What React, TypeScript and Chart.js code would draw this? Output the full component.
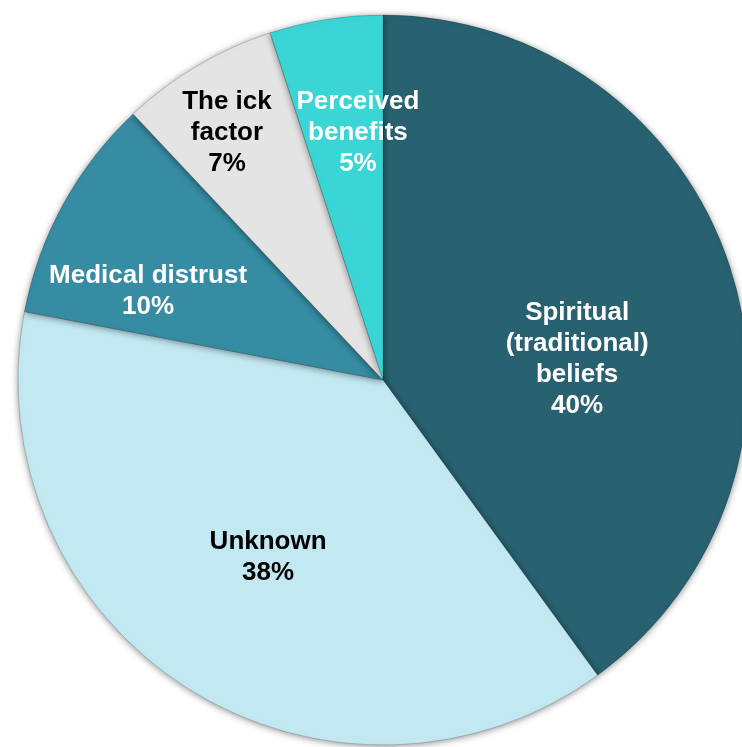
import React, { useEffect, useRef } from "react";
import { Chart, registerables } from "chart.js";

Chart.register(...registerables);

const categories = [
  ["Spiritual", "(traditional)", "beliefs"],
  ["Unknown"],
  ["Medical distrust"],
  ["The ick", "factor"],
  ["Perceived", "benefits"],
];
const values = [40, 38, 10, 7, 5];
const colors = ["#286170", "#C2E8F2", "#368CA3", "#E4E4E4", "#3AD6D6"];
const textColors = ["#FFFFFF", "#000000", "#FFFFFF", "#000000", "#FFFFFF"];
// label anchor: [angle clockwise from top in degrees, fraction of radius]
const labelAnchors: [number, number][] = [
  [83.8, 0.535],
  [213, 0.578],
  [290.7, 0.688],
  [327.7, 0.8],
  [354.2, 0.68],
];

const FONT = 'bold 26px "Liberation Sans", Arial, sans-serif';
const LINE_H = 31;

const shadowAndLabels = {
  id: "shadowAndLabels",
  beforeDatasetsDraw(chart: any) {
    const ctx = chart.ctx;
    ctx.save();
    ctx.shadowColor = "rgba(0,0,0,0.45)";
    ctx.shadowBlur = 7;
    ctx.shadowOffsetX = 0;
    ctx.shadowOffsetY = 1;
  },
  afterDatasetsDraw(chart: any) {
    const ctx = chart.ctx;
    ctx.restore();
    const meta = chart.getDatasetMeta(0);
    ctx.save();
    ctx.font = FONT;
    ctx.textAlign = "center";
    ctx.textBaseline = "middle";
    meta.data.forEach((arc: any, i: number) => {
      const { x, y, outerRadius } = arc.getProps(["x", "y", "outerRadius"], true);
      const [deg, frac] = labelAnchors[i];
      const a = (deg * Math.PI) / 180;
      const cx = x + Math.sin(a) * outerRadius * frac;
      const cy = y - Math.cos(a) * outerRadius * frac;
      const lines = [...categories[i], values[i] + "%"];
      const startY = cy - ((lines.length - 1) * LINE_H) / 2;
      ctx.fillStyle = textColors[i];
      lines.forEach((ln, k) => ctx.fillText(ln, cx, startY + k * LINE_H));
    });
    ctx.restore();
  },
};

export default function App() {
  const ref = useRef<HTMLCanvasElement | null>(null);
  useEffect(() => {
    if (!ref.current) return;
    const chart = new Chart(ref.current, {
      type: "pie",
      data: {
        labels: categories.map((c) => c.join(" ")),
        datasets: [
          {
            data: values,
            backgroundColor: colors,
            borderColor: "rgba(0,0,0,0.18)",
            borderWidth: 1,
          },
        ],
      },
      options: {
        responsive: false,
        animation: false,
        radius: 365,
        layout: { padding: { left: 24, top: 13, right: 0, bottom: 0 } },
        plugins: {
          legend: { display: false },
          tooltip: { enabled: false },
        },
      } as any,
      plugins: [shadowAndLabels],
    });
    return () => chart.destroy();
  }, []);
  return (
    <div style={{ position: "absolute", left: 0, top: 0, width: 742, height: 747, background: "#fff", overflow: "hidden" }}>
      <canvas ref={ref} width={742} height={747} style={{ display: "block" }} />
    </div>
  );
}
